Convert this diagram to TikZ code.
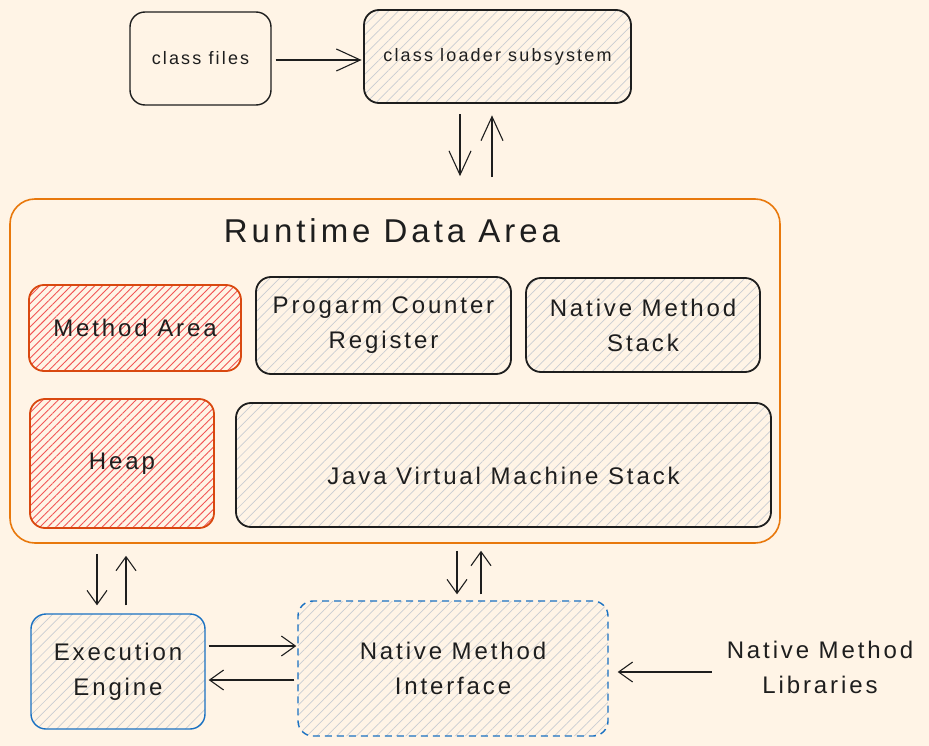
\documentclass[tikz,border=0pt]{standalone}
\usepackage{fontspec}
\setmainfont{Liberation Sans}[LetterSpace=12]
\usetikzlibrary{arrows.meta,patterns.meta}
\definecolor{bg}{HTML}{FFF4E6}
\definecolor{orng}{HTML}{E8780C}
\definecolor{redline}{HTML}{D9480F}
\definecolor{redhatch}{HTML}{F25555}
\definecolor{greyhatch}{HTML}{C9CDD2}
\definecolor{blueline}{HTML}{1971C2}
\definecolor{ink}{HTML}{1E1E1E}
\tikzset{
  box/.style={draw=ink, line width=1.8pt, rounded corners=15pt, inner sep=0pt, align=center, font=\fontsize{24}{35}\selectfont, text=ink},
  greybox/.style={box, pattern={Lines[angle=45,distance=7pt,line width=0.7pt]}, pattern color=greyhatch},
  redbox/.style={box, draw=redline, pattern={Lines[angle=45,distance=5.5pt,line width=0.9pt]}, pattern color=redhatch},
  arr/.style={draw=ink, line width=1.1pt, -{Straight Barb[length=14pt,width=20pt,line width=1.1pt]}},
  bigarr/.style={arr, -{Straight Barb[length=24pt,width=22pt,line width=1.1pt]}},
  lbl/.style={font=\fontsize{24}{35}\selectfont, text=ink, align=center},
}
\begin{document}
\begin{tikzpicture}[x=1pt,y=-1pt]
\fill[bg] (0,0) rectangle (929,746);
\useasboundingbox (0,0) rectangle (929,746);

% top
\node[box, line width=1.4pt, minimum width=141pt, minimum height=93pt, font=\fontsize{18}{22}\selectfont] (cf) at (200.5,58.5) {class files};
\node[greybox, minimum width=267pt, minimum height=93pt, font=\fontsize{18}{22}\selectfont] (cl) at (497.5,56.5) {class loader subsystem};

% runtime data area
\node[draw=orng, line width=1.6pt, rounded corners=25pt, minimum width=770pt, minimum height=344pt, inner sep=0pt] (rda) at (395,371) {};
\node[font=\fontsize{33}{38}\selectfont, text=ink] (title) at (392,231) {Runtime Data Area};

\node[redbox, minimum width=212pt, minimum height=86pt] (ma) at (135,328) {Method Area};
\node[greybox, minimum width=255pt, minimum height=97pt] (pc) at (383.5,325.5) {Progarm Counter\\Register};
\node[greybox, minimum width=234pt, minimum height=94pt] (nms) at (643,325) {Native Method\\Stack};
\node[redbox, minimum width=184pt, minimum height=129pt] (heap) at (122,463.5) {Heap};
\node[greybox, minimum width=535pt, minimum height=124pt, label={[lbl, yshift=-11pt]center:Java Virtual Machine Stack}] (jvm) at (503.5,465) {};

% bottom
\node[greybox, draw=blueline, line width=1.4pt, minimum width=174pt, minimum height=115pt] (ee) at (118,671.5) {Execution\\Engine};
\node[greybox, draw=blueline, line width=1.4pt, dashed, dash pattern=on 7pt off 5pt, minimum width=310pt, minimum height=135pt] (nmi) at (453,668.5) {Native Method\\Interface};
\node[lbl, inner sep=0pt, minimum width=200pt] (lib) at (820,667) {Native Method\\Libraries};

% connectors
\draw[bigarr] ([xshift=4pt,yshift=-1.5pt]cf.east) -- ([xshift=-2pt,yshift=-3.5pt]cl.west);
\draw[bigarr] ([xshift=-37.5pt,yshift=-11pt]cl.south) -- ([xshift=65pt,yshift=22pt]rda.north);
\draw[bigarr] ([xshift=97pt,yshift=21pt]rda.north) -- ([xshift=-5.5pt,yshift=-12pt]cl.south);

\draw[arr] ([xshift=-298pt,yshift=-10pt]rda.south) -- ([xshift=-21pt,yshift=8pt]ee.north);
\draw[arr] ([xshift=8pt,yshift=8pt]ee.north) -- ([xshift=-269pt,yshift=-12pt]rda.south);
\draw[arr] ([xshift=62pt,yshift=-7pt]rda.south) -- ([xshift=4pt,yshift=6pt]nmi.north);
\draw[arr] ([xshift=28pt,yshift=6pt]nmi.north) -- ([xshift=86pt,yshift=-7pt]rda.south);

\draw[arr] ([xshift=3pt,yshift=25.5pt]ee.east) -- ([xshift=-1pt,yshift=22.5pt]nmi.west);
\draw[arr] ([xshift=-3pt,yshift=-11.5pt]nmi.west) -- ([xshift=3pt,yshift=-8.5pt]ee.east);
\draw[arr] ([xshift=-8pt,yshift=-5pt]lib.west) -- ([xshift=9pt,yshift=-3.5pt]nmi.east);
\end{tikzpicture}
\end{document}
